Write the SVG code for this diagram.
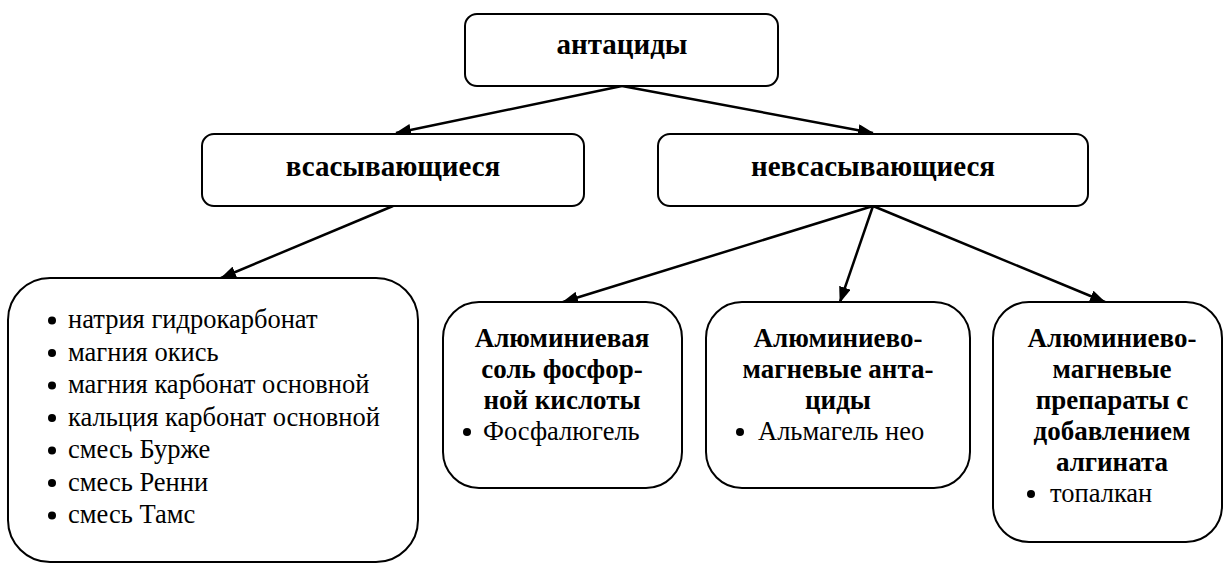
<svg xmlns="http://www.w3.org/2000/svg" width="1225" height="563" viewBox="0 0 1225 563">
<style>
.box{fill:#fff;stroke:#000;stroke-width:2}
text{font-family:"Liberation Serif","Times New Roman",serif;fill:#000}
.t{font-size:26.5px}
.h{font-size:29px;font-weight:bold;text-anchor:middle}
.b{font-size:27px;font-weight:bold;text-anchor:middle}
.c{stroke:#000;stroke-width:2.5;fill:none;marker-end:url(#ah)}
</style>
<defs>
<marker id="ah" viewBox="0 0 16 12" refX="15" refY="6" markerWidth="16" markerHeight="12" markerUnits="userSpaceOnUse" orient="auto">
<path d="M0,0 L16,6 L0,12 Z" fill="#000"/>
</marker>
</defs>
<rect width="1225" height="563" fill="#fff"/>
<g id="connectors">
<line class="c" x1="622" y1="86" x2="396" y2="133"/>
<line class="c" x1="622" y1="86" x2="873" y2="133"/>
<line class="c" x1="393" y1="206" x2="221" y2="278"/>
<line class="c" x1="873" y1="206" x2="563" y2="302"/>
<line class="c" x1="873" y1="206" x2="840" y2="302"/>
<line class="c" x1="873" y1="206" x2="1105" y2="302"/>
</g>
<g id="antacids">
<rect class="box" x="465" y="14" width="313" height="72" rx="12"/>
<text class="h" x="622" y="54">антациды</text>
</g>
<g id="absorbable">
<rect class="box" x="202" y="134" width="382" height="72" rx="12"/>
<text class="h" x="393" y="176">всасывающиеся</text>
</g>
<g id="nonabsorbable">
<rect class="box" x="658" y="134" width="430" height="72" rx="12"/>
<text class="h" x="873" y="176">невсасывающиеся</text>
</g>
<g id="list-absorbable">
<rect class="box" x="8" y="278" width="410" height="284" rx="42"/>
<circle cx="52" cy="320.5" r="4"/>
<circle cx="52" cy="353" r="4"/>
<circle cx="52" cy="385.5" r="4"/>
<circle cx="52" cy="418" r="4"/>
<circle cx="52" cy="450.5" r="4"/>
<circle cx="52" cy="483" r="4"/>
<circle cx="52" cy="515.5" r="4"/>
<text class="t" x="68" y="328">натрия гидрокарбонат</text>
<text class="t" x="68" y="360.5">магния окись</text>
<text class="t" x="68" y="393">магния карбонат основной</text>
<text class="t" x="68" y="425.5">кальция карбонат основной</text>
<text class="t" x="68" y="458">смесь Бурже</text>
<text class="t" x="68" y="490.5">смесь Ренни</text>
<text class="t" x="68" y="523">смесь Тамс</text>
</g>
<g id="al-phosphate">
<rect class="box" x="443" y="302" width="239" height="186" rx="36"/>
<text class="b" x="562" y="346.7">Алюминиевая</text>
<text class="b" x="562" y="377.7">соль фосфор-</text>
<text class="b" x="562" y="408.7">ной кислоты</text>
<circle cx="467" cy="432" r="4"/>
<text class="t" x="483" y="439.7">Фосфалюгель</text>
</g>
<g id="al-mg">
<rect class="box" x="706" y="302" width="264" height="186" rx="36"/>
<text class="b" x="838" y="346.7">Алюминиево-</text>
<text class="b" x="838" y="377.7">магневые анта-</text>
<text class="b" x="838" y="408.7">циды</text>
<circle cx="740" cy="432" r="4"/>
<text class="t" x="758" y="439.7">Альмагель нео</text>
</g>
<g id="al-mg-alginate">
<rect class="box" x="993" y="302" width="229" height="240" rx="36"/>
<text class="b" x="1112" y="346.7">Алюминиево-</text>
<text class="b" x="1112" y="377.7">магневые</text>
<text class="b" x="1112" y="408.7">препараты с</text>
<text class="b" x="1112" y="439.7">добавлением</text>
<text class="b" x="1112" y="470.7">алгината</text>
<circle cx="1031" cy="494" r="4"/>
<text class="t" x="1050" y="501.7">топалкан</text>
</g>
</svg>
